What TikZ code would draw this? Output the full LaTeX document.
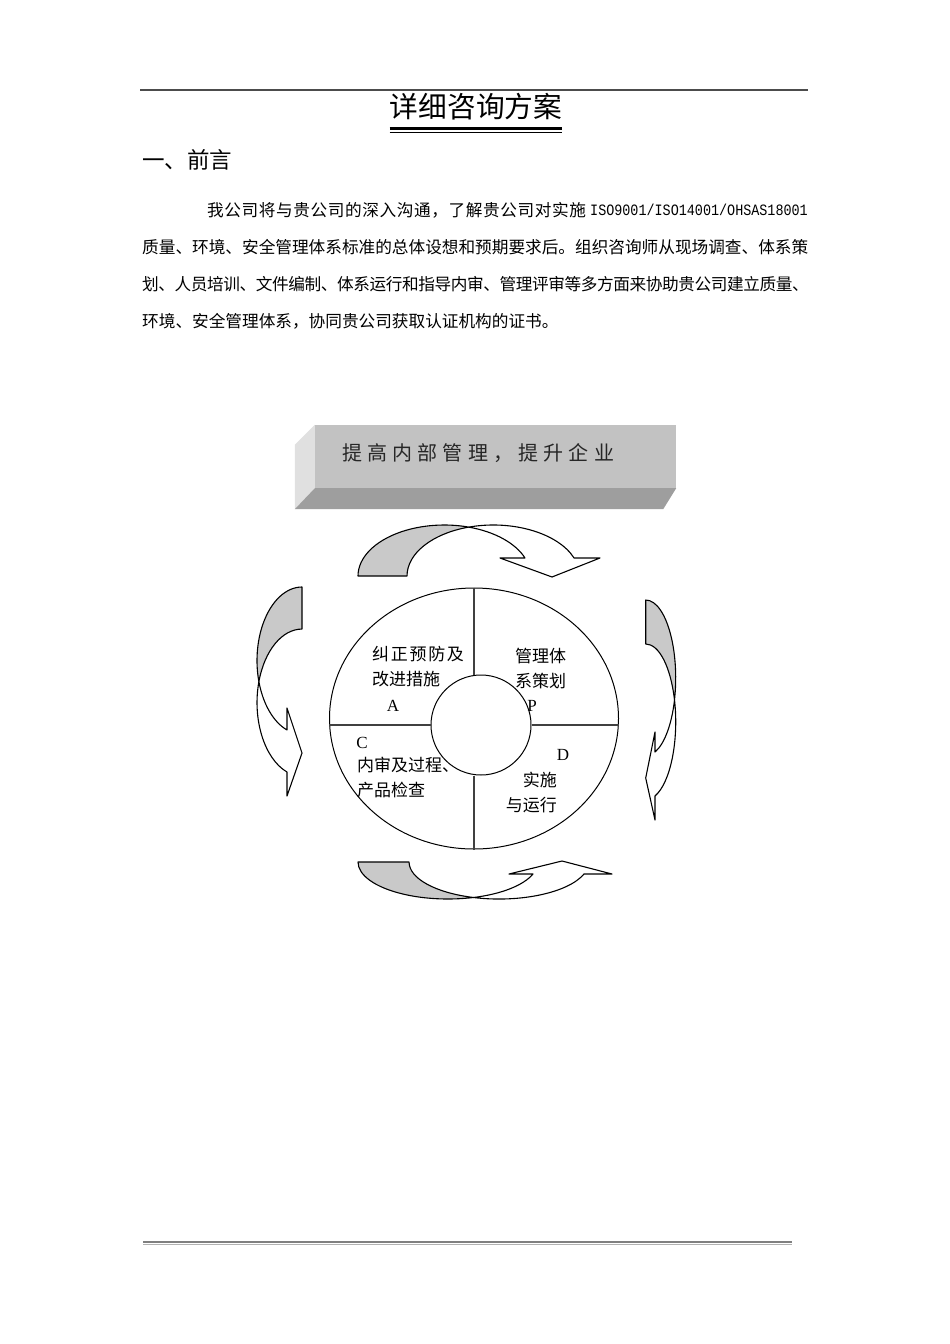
\documentclass[tikz,border=0pt]{standalone}
\usepackage{fontspec}
\setmainfont{Liberation Serif}
\setmonofont{Liberation Mono}[FakeStretch=0.85]
\newfontfamily\cjk{Noto Sans CJK SC}
\usetikzlibrary{positioning}
\usetikzlibrary{calc}
\usetikzlibrary{shapes.geometric}

\definecolor{facefront}{gray}{0.76}
\definecolor{faceside}{gray}{0.88}
\definecolor{facebottom}{gray}{0.62}
\definecolor{bandgray}{gray}{0.79}

\begin{document}
\begin{tikzpicture}[x=1pt,y=1pt]
				\tikzset{heading/.style = {inner sep=0, anchor=west, font=\cjk\fontsize{22.5}{27}\selectfont},
					bodyline/.style = {inner sep=0, anchor=west, font=\cjk\fontsize{16.65}{20}\selectfont},
					cell/.style = {inner sep=0, anchor=west, align=left, font=\cjk\fontsize{17}{25}\selectfont},
					letter/.style = {inner sep=0, font=\fontsize{17}{20}\selectfont},
					banner/.style = {rectangle, fill=facefront, minimum width=361pt, minimum height=63pt, inner xsep=27pt, inner ysep=0pt, text width=307pt, text depth=8pt, align=left, text=black!85, font=\cjk\addfontfeature{LetterSpace=26}\fontsize{20}{24}\selectfont},
					backband/.style = {fill=bandgray, draw=black, line width=1.1pt, line join=round},
					frontband/.style = {fill=white, draw=black, line width=1.1pt, line join=round},
					spoke/.style = {draw=black!75, line width=1.2pt}}
				% page
				\fill[white] (0,0) rectangle (950,-1344);
				\useasboundingbox (0,0) rectangle (950,-1344);
				\draw[line width=2pt, black!70] (140,-90) -- (808,-90);
				\draw[line width=2.5pt, black!50] (143,-1242) -- (792,-1242);
				\draw[line width=1.5pt, black!30] (143,-1244.5) -- (792,-1244.5);
				
				% title and text
				\node[inner sep=0, font=\cjk\fontsize{28.7}{34}\selectfont] (title) at (476,-107) {详细咨询方案};
				\coordinate (rule) at (0,-128.5);
				\coordinate (thinrule) at (0,-132.5);
				\draw[line width=3pt] (title.west |- rule) -- (title.east |- rule);
				\draw[line width=1pt] (title.west |- thinrule) -- (title.east |- thinrule);
				\node[heading] (intro) at (142,-160) {一、前言};
				\node[bodyline, font=\cjk\addfontfeature{LetterSpace=3.6}\fontsize{16.65}{20}\selectfont] (line1) at (207,-210) {我公司将与贵公司的深入沟通，了解贵公司对实施};
				\node[bodyline, anchor=east, font=\ttfamily\fontsize{15.8}{20}\selectfont] (norms) at (808,-210) {ISO9001/ISO14001/OHSAS18001};
				\node[bodyline] (line2) at (142,-247) {质量、环境、安全管理体系标准的总体设想和预期要求后。组织咨询师从现场调查、体系策};
				\node[bodyline, font=\cjk\addfontfeature{LetterSpace=-2.4}\fontsize{16.65}{20}\selectfont] (line3) at (142,-284) {划、人员培训、文件编制、体系运行和指导内审、管理评审等多方面来协助贵公司建立质量、};
				\node[bodyline] (line4) at (142,-321) {环境、安全管理体系，协同贵公司获取认证机构的证书。};
				
				% goal box
				\node[banner] (goal) at (495.5,-456.5) {提高内部管理，提升企业};
				\fill[faceside] (goal.north west) -- ++(-20,-20) -- ($(goal.south west)+(-20,-21)$) -- (goal.south west) -- cycle;
				\fill[facebottom] (goal.south west) -- (goal.south east) -- ++(-13,-21) -- ($(goal.south west)+(-20,-21)$) -- cycle;
				
				% cycle arrows: top, right, bottom, left
				\path[backband, x radius=86.3, y radius=51] (358,-576) arc[start angle=180, end angle=73.5] arc[start angle=106.5, end angle=180] -- cycle;
				\path[frontband, x radius=86.3, y radius=51] (468.8,-527.1) arc[start angle=106.5, end angle=20.7]
					-- (600,-558) -- (552,-577) -- (500,-558) -- (525,-558) arc[start angle=20.7, end angle=73.5] -- cycle;
				\path[backband, x radius=30, y radius=77.9] (645.7,-600) arc[start angle=90, end angle=-16.4] arc[start angle=16.4, end angle=90] -- cycle;
				\path[frontband, x radius=30, y radius=77.9] (674.5,-699.9) arc[start angle=16.4, end angle=-72]
					-- (655,-820) -- (645.7,-778) -- (655,-732) -- (655,-752) arc[start angle=-72, end angle=-16.4] -- cycle;
				\path[backband, x radius=89.9, y radius=37] (358,-862) arc[start angle=180, end angle=286.5] arc[start angle=253.5, end angle=180] -- cycle;
				\path[frontband, x radius=89.9, y radius=37] (473.4,-897.5) arc[start angle=253.5, end angle=341.1]
					-- (612,-874) -- (562,-861) -- (509,-874) -- (533,-874) arc[start angle=341.1, end angle=286.5] -- cycle;
				\path[backband, x radius=45, y radius=73.6] (302,-587) arc[start angle=90, end angle=196.6] arc[start angle=163.4, end angle=90] -- cycle;
				\path[frontband, x radius=45, y radius=73.6] (258.9,-681.6) arc[start angle=163.4, end angle=250.5]
					-- (287,-796) -- (302,-753) -- (287,-708) -- (287,-730) arc[start angle=250.5, end angle=196.6] -- cycle;
				
				% PDCA wheel
				\node[ellipse, draw, line width=1pt, minimum width=289pt, minimum height=261pt, inner sep=0] (ring) at (474,-718.5) {};
				\node[circle, draw, line width=1pt, minimum size=100pt, inner sep=0] (hub) at (481,-725) {};
				\draw[spoke] (ring.north) -- (ring.north |- hub.north);
				\draw[spoke] (ring.south) -- (ring.south |- hub.south);
				\draw[spoke] (ring.west |- hub.west) -- (hub.west);
				\draw[spoke] (hub.east) -- (ring.east |- hub.east);
				\node[cell] (act) at (372,-667) {{\addfontfeature{LetterSpace=10}纠正预防及}\\改进措施};
				\node[cell] (plan) at (515,-668) {管理体\\系策划};
				\node[cell] (check) at (357,-778) {内审及过程、\\产品检查};
				\node[cell, anchor=east, align=right] (do) at (557,-792.5) {实施\\与运行};
				\node[letter] (markA) at (393,-706) {A};
				\node[letter] (markP) at (532,-706) {P};
				\node[letter] (markC) at (362,-743) {C};
				\node[letter] (markD) at (563,-755) {D};
				
\end{tikzpicture}
\end{document}
